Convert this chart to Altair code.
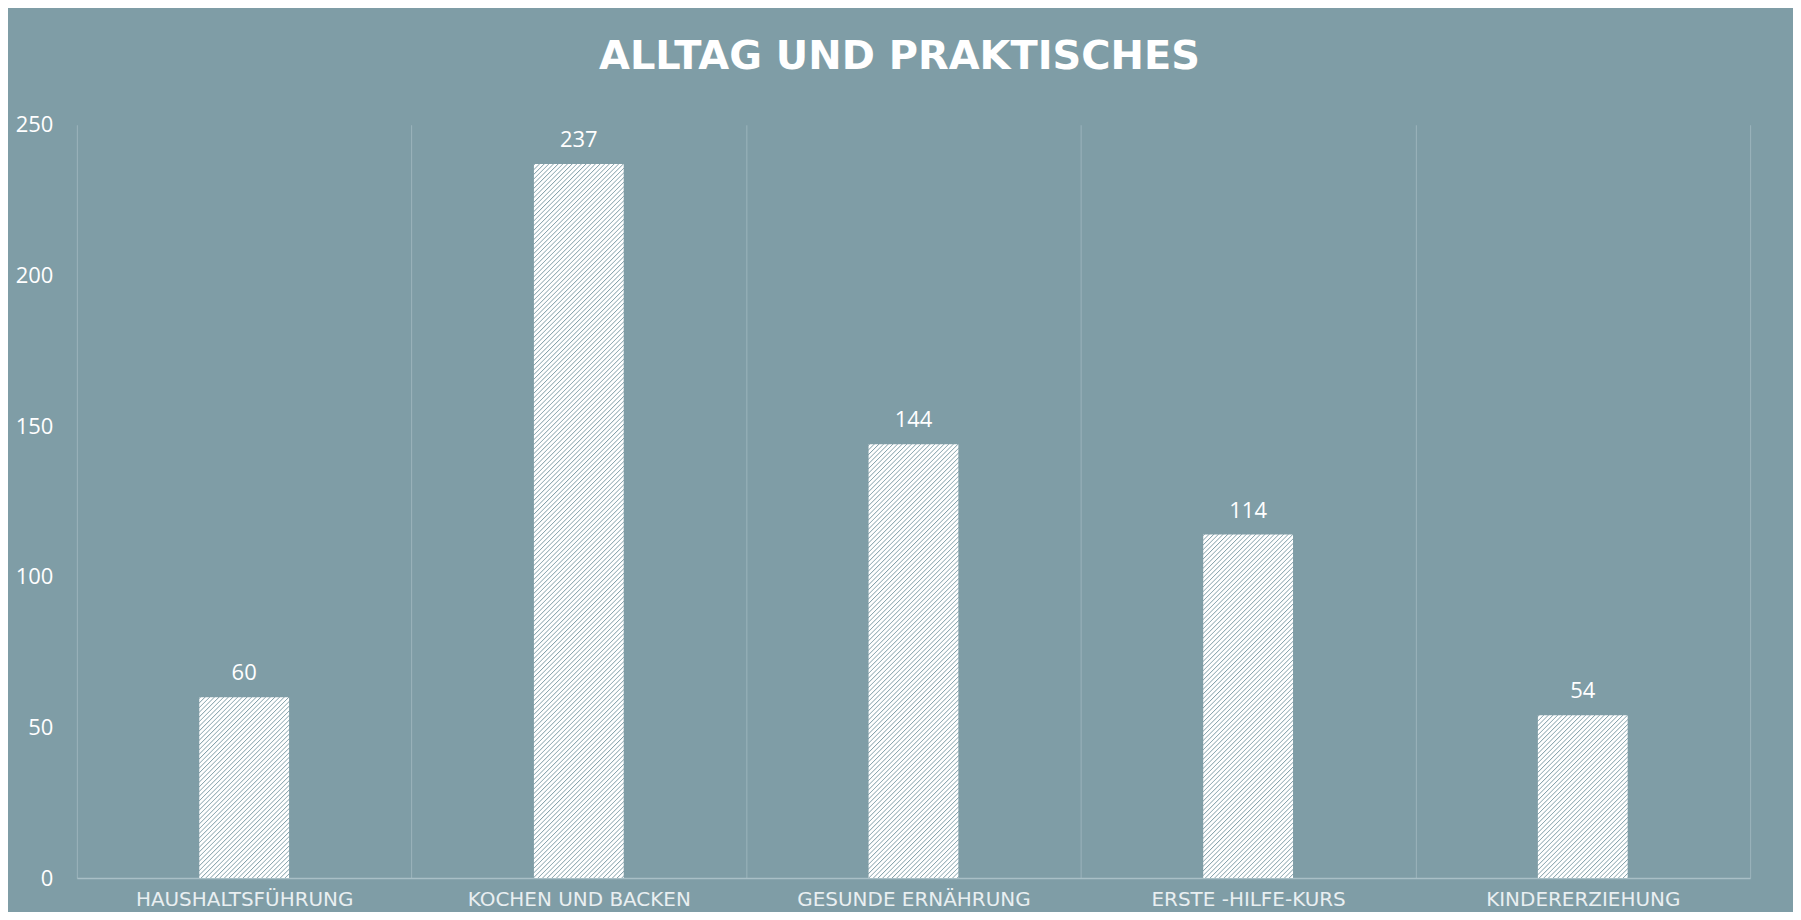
import math
import altair as alt
import pandas as pd

# ---- data ----
categories = ["HAUSHALTSFÜHRUNG", "KOCHEN UND BACKEN", "GESUNDE ERNÄHRUNG",
              "ERSTE -HILFE-KURS", "KINDERERZIEHUNG"]
values = [60, 237, 144, 114, 54]
y_ticks = [0, 50, 100, 150, 200, 250]
title_text = "ALLTAG UND PRAKTISCHES"

df = pd.DataFrame({"cat": categories, "val": values})

# ---- style ----
BG = "#7F9DA6"
GRID = "#9CB4BC"
BASE = "#A9BFC6"
WHITE = "#FFFFFF"
HATCH = "#86A2AB"
W, H = 1677, 755
Y_MAX = 250
BAR_W = 90


def hatch_fill(v):
    """Diagonal '/' stripes as a linear gradient sized to one bar."""
    w = BAR_W
    h = v * H / Y_MAX
    k = (w + h) / (w * w + h * h)
    length = (w + h) / math.sqrt(2)
    period = 3.3
    stops = []
    i = 0
    while i * period < length:
        s = i * period
        pts = [(s, WHITE), (s + 0.2 * period, HATCH), (s + 0.45 * period, WHITE)]
        for pos, col in pts:
            stops.append(alt.GradientStop(offset=round(min(pos / length, 1.0), 7), color=col))
        i += 1
    return alt.LinearGradient(gradient="linear", stops=stops,
                              x1=0, y1=0, x2=w * k, y2=h * k)


x_enc = alt.X(
    "cat:N",
    sort=categories,
    scale=alt.Scale(domain=categories, paddingInner=0, paddingOuter=0),
    axis=alt.Axis(
        title=None, tickBand="extent", grid=True, gridColor=GRID, gridWidth=1,
        ticks=False, tickSize=0, domain=True, domainColor=BASE, domainWidth=1.5,
        labelFont="DejaVu Sans", labelFontSize=20, labelColor="#E9EFF1",
        labelPadding=12, labelAngle=0, labelLimit=0,
    ),
)
y_enc = alt.Y(
    "val:Q",
    scale=alt.Scale(domain=[0, Y_MAX], nice=False),
    axis=alt.Axis(
        title=None, values=y_ticks, grid=False, domain=False, ticks=False,
        tickSize=0, labelFont="Open Sans", labelFontSize=22, labelColor=WHITE,
        labelPadding=24,
    ),
)

base = alt.Chart(df)
layers = []
for c, v in zip(categories, values):
    layers.append(
        base.mark_bar(size=BAR_W, color=hatch_fill(v))
        .transform_filter(alt.datum.cat == c)
        .encode(x=x_enc, y=y_enc)
    )

labels = base.mark_text(
    baseline="alphabetic", dy=-17, font="Open Sans", fontSize=22, color=WHITE
).encode(x=x_enc, y=y_enc, text="val:Q")

chart = (
    alt.layer(*layers, labels)
    .properties(
        width=W, height=H,
        autosize="none",
        padding={"left": 69, "top": 116, "right": 43, "bottom": 33},
        background=BG,
        title=alt.Title(
            title_text, font="DejaVu Sans", fontSize=40, fontWeight="bold",
            color=WHITE, anchor="middle", frame="group", dx=-14, offset=37,
        ),
    )
    .configure_view(stroke=None)
)

chart.save("out.html", embed_options={"renderer": "svg", "actions": False})
